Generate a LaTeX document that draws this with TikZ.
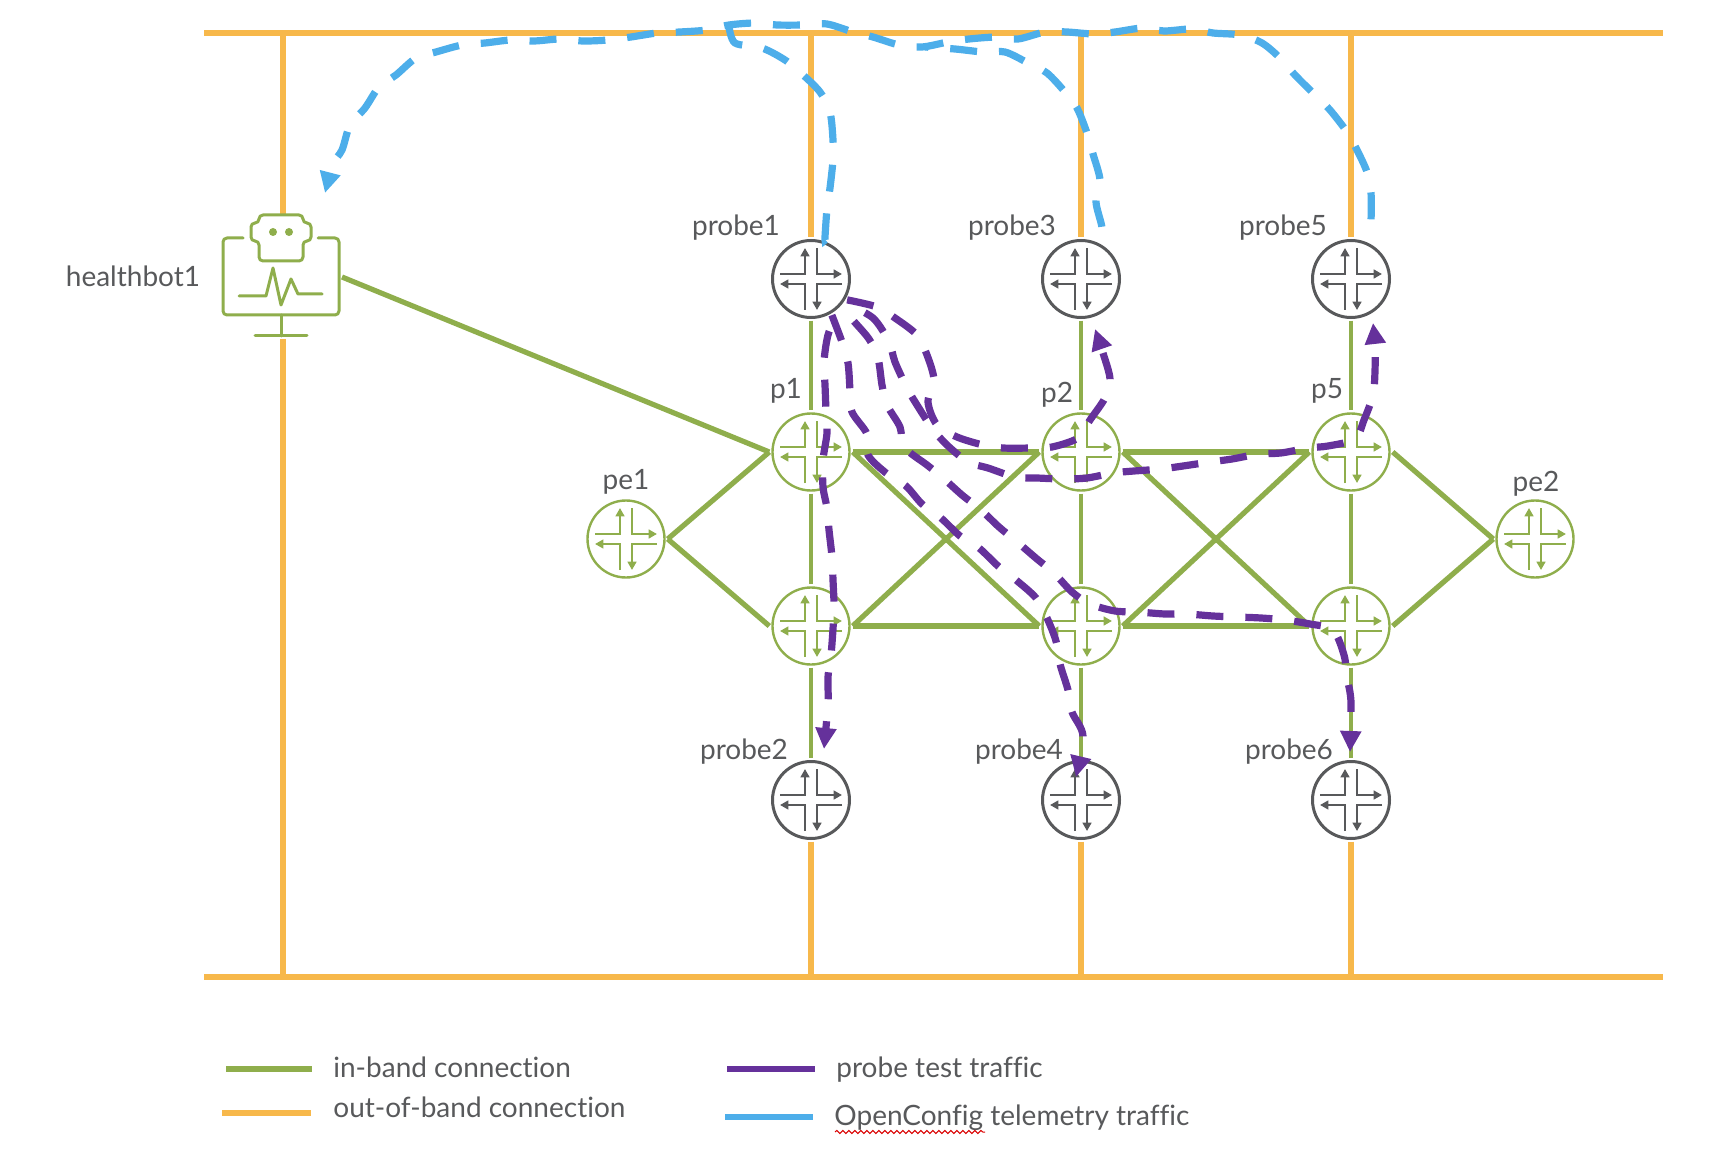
\documentclass[tikz,border=0pt]{standalone}
\usepackage{fontspec}
\setmainfont[Ligatures=NoCommon]{Lato}
\usetikzlibrary{arrows.meta,decorations.pathmorphing}
\definecolor{oobc}{HTML}{F7B84B}
\definecolor{inbc}{HTML}{8FAE4C}
\definecolor{probec}{HTML}{65319B}
\definecolor{telec}{HTML}{4DAEEA}
\definecolor{grayc}{HTML}{58595B}
\tikzset{
  oob/.style={draw=oobc,line width=3.3pt},
  inb/.style={draw=inbc,line width=2.6pt},
  inbv/.style={draw=inbc,line width=2.2pt},
  probepath/.style={draw=probec,line width=3.6pt,dash pattern=on 13.5pt off 11pt,-{Triangle[length=10.5pt,width=10pt]}},
  telepath/.style={draw=telec,line width=3.6pt,dash pattern=on 13.5pt off 11pt},
  rbase/.style={circle,inner sep=0pt,minimum size=38.5pt,outer sep=1.6pt},
  inrouter/.style={rbase,draw=inbc,line width=1.2pt},
  proberouter/.style={rbase,draw=grayc,line width=1.5pt},
  lbl/.style={text=grayc,font=\fontsize{14pt}{17pt}\selectfont,inner sep=0pt,anchor=base},
  leg/.style={text=grayc,font=\fontsize{14pt}{17pt}\selectfont,inner sep=0pt,anchor=base west},
  hbline/.style={draw=inbc,line width=1.5pt,line cap=round,line join=round},
  pics/rglyph/.style={code={
    \tikzset{gl/.style={draw=#1,line width=1.4pt,-{Triangle[length=4.2pt,width=4.4pt]}}}
    \draw[gl] (-31,-5) -- (-6,-5) -- (-6,-31);
    \draw[gl] (6,-31) -- (6,-5) -- (31,-5);
    \draw[gl] (31,5) -- (6,5) -- (6,31);
    \draw[gl] (-6,31) -- (-6,5) -- (-31,5);
  }}
}
\begin{document}
\begin{tikzpicture}[x=0.5pt,y=-0.5pt]
\useasboundingbox (0,0) rectangle (1730,1150);
% nodes
\foreach \n/\x/\y in {probe1/811/279,probe3/1081/279,probe5/1351/279,probe2/811/800,probe4/1081/800,probe6/1351/800}{
  \node[proberouter] (\n) at (\x,\y) {};
  \pic at (\n) {rglyph=grayc};
}
\foreach \n/\x/\y in {p1/811/452,p2/1081/452,p5/1351/452,p3/811/626,p4/1081/626,p6/1351/626,pe1/626/539,pe2/1535/539}{
  \node[inrouter] (\n) at (\x,\y) {};
  \pic at (\n) {rglyph=inbc};
}
\node[minimum width=58pt,minimum height=62pt,inner sep=0pt,outer sep=1.5pt] (hb) at (281,277) {};
% out-of-band
\coordinate (topL) at (204,33);
\coordinate (topR) at (1663,33);
\coordinate (botL) at (204,977);
\coordinate (botR) at (1663,977);
\coordinate (hbtop) at (283,215);
\coordinate (hbbot) at (283,339);
\draw[oob] (topL) -- (topR);
\draw[oob] (botL) -- (botR);
\draw[oob] (hbtop |- topL) -- (hbtop);
\draw[oob] (hbbot) -- (hbbot |- botL);
\foreach \n in {probe1,probe3,probe5} \draw[oob] (\n |- topL) -- (\n.north);
\foreach \n in {probe2,probe4,probe6} \draw[oob] (\n.south) -- (\n |- botL);
% healthbot icon
\draw[hbline,rounded corners=2pt] (243,238) -- (223,238) -- (223,315) -- (339,315) -- (339,238) -- (318,238);
\draw[hbline,rounded corners=2pt] (259,223) -- (259,215) -- (303,215) -- (303,223) -- (311,223) -- (311,241) -- (303,241) -- (303,261) -- (259,261) -- (259,241) -- (251,241) -- (251,223) -- cycle;
\fill[inbc] (273,232) circle (4);
\fill[inbc] (289,232) circle (4);
\draw[hbline] (239,296) -- (266,296) -- (273,268) -- (281,305) -- (291,279) -- (298,294) -- (322,294);
\draw[hbline] (281,315) -- (281,336);
\draw[hbline] (255,336) -- (307,336);
% in-band
\draw[inb] (hb.east) -- (p1.west);
\draw[inb] (pe1.east) -- (p1.west);
\draw[inb] (pe1.east) -- (p3.west);
\draw[inb] (p1.east) -- (p2.west);
\draw[inb] (p2.east) -- (p5.west);
\draw[inb] (p3.east) -- (p4.west);
\draw[inb] (p4.east) -- (p6.west);
\draw[inb] (p1.east) -- (p4.west);
\draw[inb] (p3.east) -- (p2.west);
\draw[inb] (p2.east) -- (p6.west);
\draw[inb] (p4.east) -- (p5.west);
\draw[inb] (p5.east) -- (pe2.west);
\draw[inb] (p6.east) -- (pe2.west);
\foreach \a/\b in {probe1/p1,p1/p3,p3/probe2,probe3/p2,p2/p4,p4/probe4,probe5/p5,p5/p6,p6/probe6}
  \draw[inbv] (\a.south) -- (\b.north);
% labels
\node[lbl] (lhb) at (133,287) {healthbot1};
\node[lbl] (lprobe1) at (736,236) {probe1};
\node[lbl] (lprobe3) at (1012,236) {probe3};
\node[lbl] (lprobe5) at (1283,236) {probe5};
\node[lbl] (lprobe2) at (744,759) {probe2};
\node[lbl] (lprobe4) at (1019,759) {probe4};
\node[lbl] (lprobe6) at (1289,759) {probe6};
\node[lbl] (lp1) at (786,399) {p1};
\node[lbl] (lp2) at (1057,402) {p2};
\node[lbl] (lp5) at (1327,399) {p5};
\node[lbl] (lpe1) at (626,489) {pe1};
\node[lbl] (lpe2) at (1536,491) {pe2};
% telemetry
\coordinate (tipHB) at (325,193);
\coordinate (j1) at (729,26);
\coordinate (j3) at (925,47);
\draw[telepath,-{Triangle[length=10.5pt,width=10pt]},dash phase=13.5pt] plot[smooth,tension=0.5] coordinates {
 (probe5.65) (1371,220) (1371,193) (1367,172) (1357,150) (1347,132) (1330,110) (1315,95) (1295,75) (1280,58) (1262,43) (1240,35) (1213,33) (1192,29) (1164,31) (1143,28) (1115,32) (1094,34) (1067,32) (1045,32) (1018,39) (997,37) (969,39) (948,42) (922,47) (899,45) (873,37) (853,32) (827,24) (804,25) (777,25) (755,23) (729,25) (707,30) (680,32) (657,33) (631,37) (608,40) (583,41) (560,39) (534,41) (511,40) (485,43) (462,45) (436,52) (416,58) (396,75) (379,87) (365,108) (350,125) (342,150) (333,162)} -- (tipHB);
\draw[telepath] plot[smooth,tension=0.5] coordinates {
 (probe1.70) (825,237) (827,209) (830,188) (833,160) (833,140) (830,112) (820,92) (802,74) (785,60) (762,48) (735,43) (j1)};
\draw[telepath,dash phase=17pt] plot[smooth,tension=0.5] coordinates {
 (probe3.65) (1102,228) (1096,202) (1100,180) (1093,154) (1087,133) (1077,108) (1065,92) (1047,73) (1028,63) (1005,52) (983,52) (955,49) (j3)};
% probe traffic
\coordinate (tip2) at (824,749);
\coordinate (tip3) at (1095,329);
\coordinate (tip4) at (1076,777);
\coordinate (tip5) at (1373,323);
\coordinate (tip6) at (1350,752);
\draw[probepath,dash phase=13.5pt] plot[smooth,tension=0.5] coordinates {
 (probe1.-50) (828,335) (824,362) (825,385) (826,411) (827,433) (823,460) (823,487) (827,508) (829,530) (832,557) (833,580) (834,605) (833,629) (831,655) (828,677) (828,703) (tip2)};
\draw[probepath] plot[smooth,tension=0.5] coordinates {
 (probe1.-30) (877,307) (895,318) (917,335) (927,355) (934,380) (928,402) (937,425) (957,437) (983,445) (1003,448) (1031,448) (1052,447) (1078,438) (1090,420) (1105,398) (1110,379) (1103,353) (tip3)};
\draw[probepath] plot[smooth,tension=0.5] coordinates {
 (probe1.-60) (842,342) (848,363) (850,390) (852,412) (867,434) (868,455) (886,473) (906,486) (922,504) (941,518) (960,536) (979,548) (998,566) (1016,580) (1036,598) (1047,618) (1056,641) (1060,664) (1068,690) (1072,712) (1083,736) (tip4)};
\draw[probepath,dash phase=13.5pt] plot[smooth,tension=0.5] coordinates {
 (probe1.-35) (873,318) (889,342) (895,362) (907,388) (917,405) (932,428) (947,445) (968,462) (988,468) (1015,477) (1037,478) (1063,479) (1087,478) (1113,473) (1134,471) (1161,469) (1183,466) (1210,462) (1232,459) (1259,454) (1281,453) (1308,448) (1328,446) (1355,439) (1364,420) (1373,395) (1375,371) (1375,345) (tip5)};
\draw[probepath,dash phase=15pt] plot[smooth,tension=0.5] coordinates {
 (probe1.-40) (852,319) (869,339) (878,358) (882,385) (887,405) (900,427) (904,447) (927,465) (942,477) (962,495) (980,509) (999,527) (1016,541) (1037,559) (1054,573) (1072,592) (1090,604) (1115,611) (1138,612) (1165,614) (1187,614) (1213,616) (1237,617) (1261,618) (1285,620) (1310,624) (1333,630) (1344,655) (1347,677) (1351,702) (tip6)};
% legend
\coordinate (la1) at (226,1069); \coordinate (la2) at (312,1069);
\coordinate (lb1) at (222,1113); \coordinate (lb2) at (311,1113);
\coordinate (lc1) at (727,1069); \coordinate (lc2) at (815,1069);
\coordinate (ld1) at (725,1117); \coordinate (ld2) at (813,1117);
\draw[inb,line width=2.8pt] (la1) -- (la2);
\draw[oob] (lb1) -- (lb2);
\draw[draw=probec,line width=2.8pt] (lc1) -- (lc2);
\draw[draw=telec,line width=2.8pt] (ld1) -- (ld2);
\node[leg] (ta) at (333,1077) {in-band connection};
\node[leg] (tb) at (333,1117) {out-of-band connection};
\node[leg] (tc) at (836,1077) {probe test traffic};
\node[leg] (td) at (834,1125) {OpenConfig telemetry traffic};
\coordinate (sq1) at (835,1132); \coordinate (sq2) at (985,1132);
\draw[red!85!black,line width=0.5pt,decorate,decoration={snake,amplitude=0.8pt,segment length=3pt}] (sq1) -- (sq2);
\end{tikzpicture}
\end{document}
